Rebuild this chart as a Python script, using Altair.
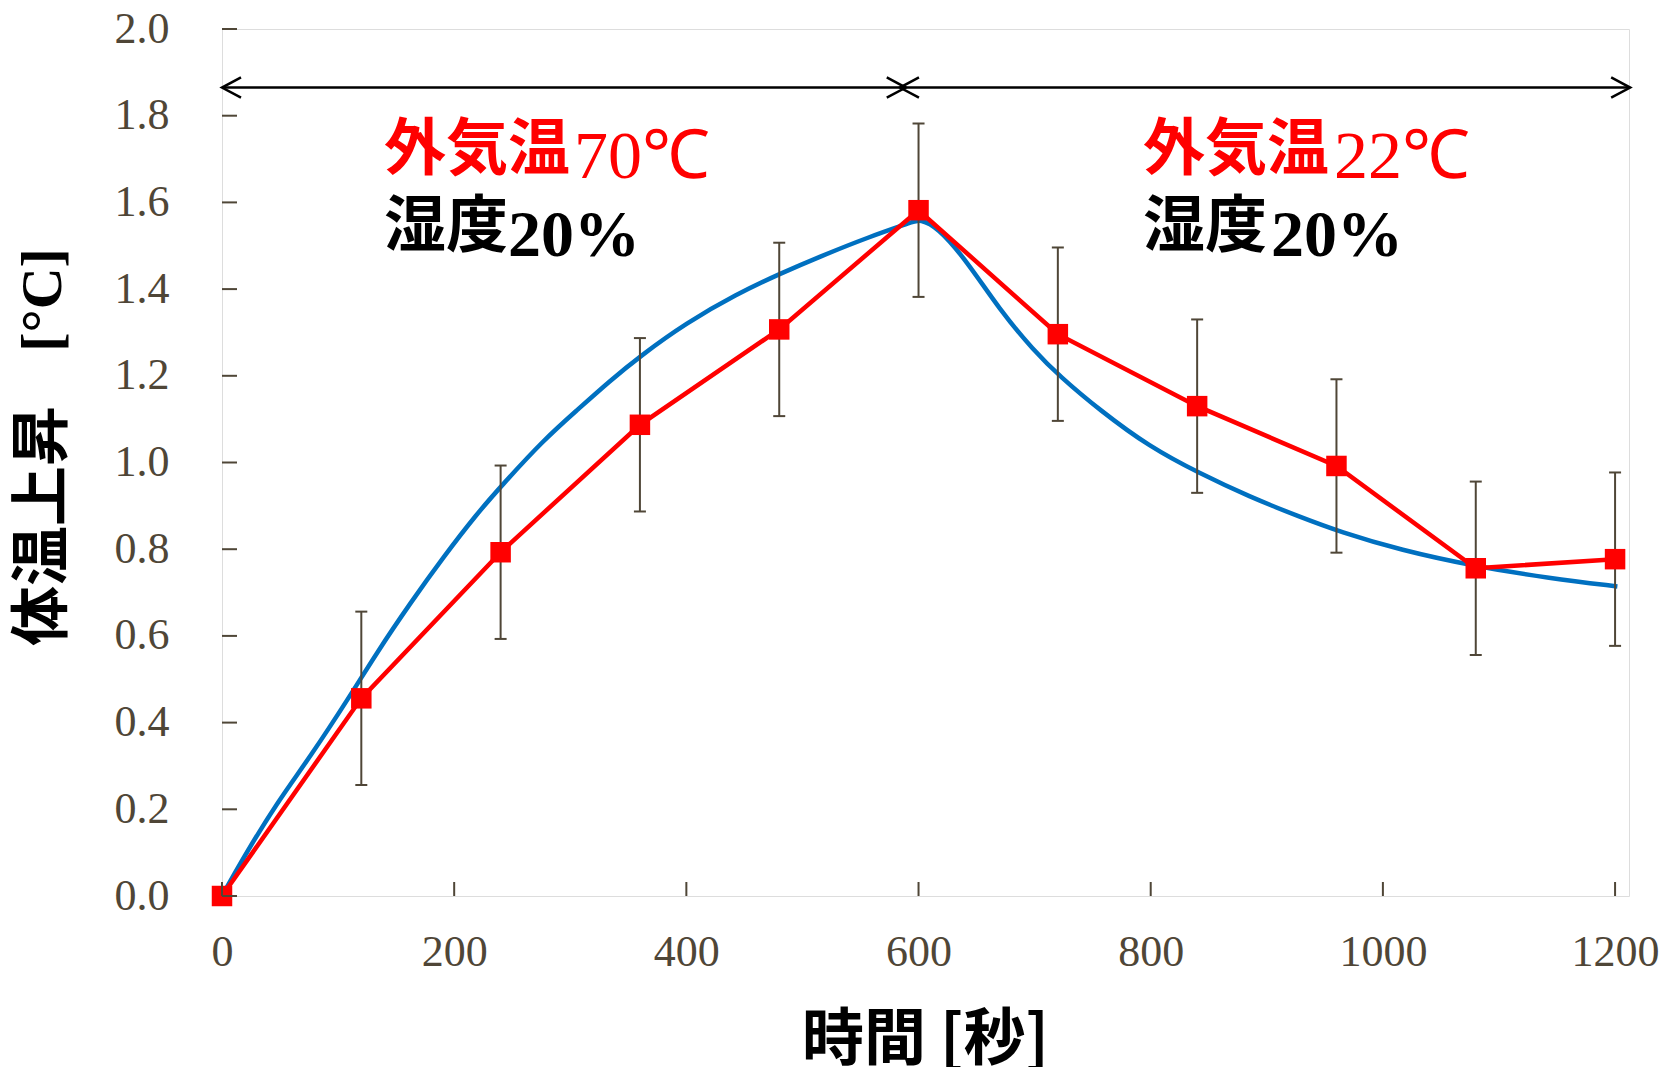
import altair as alt
import pandas as pd

# ---- data ----
meas_t = [0, 120, 240, 360, 480, 600, 720, 840, 960, 1080, 1200]
meas_v = [0.0, 0.456, 0.793, 1.087, 1.307, 1.582, 1.296, 1.130, 0.992, 0.756, 0.777]
meas_err = [0.0, 0.2, 0.2, 0.2, 0.2, 0.2, 0.2, 0.2, 0.2, 0.2, 0.2]

model_t = [0, 19, 47, 76, 110, 133, 162, 191, 220, 240, 277, 306, 334, 360, 400, 443,
           481, 515, 558, 595, 601, 616, 641, 670, 699, 722, 756, 799, 842, 885, 928,
           963, 1015, 1080, 1144, 1202]
model_v = [0.0, 0.091, 0.214, 0.321, 0.460, 0.560, 0.675, 0.783, 0.883, 0.944, 1.052,
           1.121, 1.188, 1.245, 1.322, 1.388, 1.436, 1.475, 1.521, 1.555, 1.561, 1.544,
           1.467, 1.352, 1.259, 1.198, 1.121, 1.036, 0.975, 0.921, 0.875, 0.840, 0.798,
           0.760, 0.733, 0.714]

x_ticks = [0, 200, 400, 600, 800, 1000, 1200]
y_ticks = [0.0, 0.2, 0.4, 0.6, 0.8, 1.0, 1.2, 1.4, 1.6, 1.8, 2.0]

arrow_start = [0, 584]
arrow_end = [589, 1213]
arrow_level = [1.865, 1.865]

x_title = "時間 [秒]"
y_title_jp = "体温上昇"
y_title_unit = "[°C]"
ann1_jp = ["外気温", "湿度"]
ann1_num = ["70℃", "20%"]
ann2_jp = ["外気温", "湿度"]
ann2_num = ["22℃", "20%"]

# ---- styling ----
W, H = 1407, 867
AX = "#4F4637"
SERIF = "Liberation Serif"
CJK = "Noto Sans CJK JP"

meas = pd.DataFrame({"t": meas_t, "v": meas_v, "e": meas_err})
meas["lo"] = meas["v"] - meas["e"]
meas["hi"] = meas["v"] + meas["e"]
meas_eb = meas[meas["e"] > 0]
model = pd.DataFrame({"t": model_t, "v": model_v})
arrows = pd.DataFrame({"s": arrow_start, "e": arrow_end, "y": arrow_level})

xs = alt.Scale(domain=[0, 1212], nice=False, zero=False)
ys = alt.Scale(domain=[0, 2.0], nice=False, zero=False)
xaxis = alt.Axis(title=None, values=x_ticks, ticks=False, domain=False, grid=False,
                 format="d", labelFont=SERIF, labelFontSize=44, labelColor=AX, labelPadding=34,
                 labelFlush=False, labelOverlap=False)
yaxis = alt.Axis(title=None, values=y_ticks, ticks=False, domain=False, grid=False,
                 format=".1f", labelFont=SERIF, labelFontSize=44, labelColor=AX,
                 labelPadding=53, labelOverlap=False)


def X(f):
    return alt.X(f, type="quantitative", scale=xs, axis=xaxis)


def Y(f):
    return alt.Y(f, type="quantitative", scale=ys, axis=yaxis)


blue = alt.Chart(model).mark_line(color="#0070C0", strokeWidth=4.5, interpolate="basis").encode(
    x=X("t"), y=Y("v"))

eb_rule = alt.Chart(meas_eb).mark_rule(color=AX, strokeWidth=2).encode(
    x=X("t"), y=Y("lo"), y2="hi")
eb_lo = alt.Chart(meas_eb).mark_tick(color=AX, orient="horizontal", size=12, thickness=2, opacity=1).encode(
    x=X("t"), y=Y("lo"))
eb_hi = alt.Chart(meas_eb).mark_tick(color=AX, orient="horizontal", size=12, thickness=2, opacity=1).encode(
    x=X("t"), y=Y("hi"))

red_line = alt.Chart(meas).mark_line(color="#FF0000", strokeWidth=4.5).encode(x=X("t"), y=Y("v"))
red_pts = alt.Chart(meas).mark_square(color="#FF0000", size=420, opacity=1).encode(x=X("t"), y=Y("v"))

xt = alt.Chart(pd.DataFrame({"t": x_ticks})).mark_rule(color=AX, strokeWidth=2).encode(
    x=X("t"), y=alt.value(H), y2=alt.value(H - 14))
yt = alt.Chart(pd.DataFrame({"v": y_ticks})).mark_rule(color=AX, strokeWidth=2).encode(
    y=Y("v"), x=alt.value(0), x2=alt.value(15))

arrow_line = alt.Chart(arrows).mark_rule(color="black", strokeWidth=2.5).encode(
    x=X("s"), x2="e", y=Y("y"))
head_l = alt.Chart(arrows).mark_point(shape="M 1 -0.53 L 0 0 L 1 0.53", filled=False,
                                       stroke="black", strokeWidth=2.5, size=1444, opacity=1).encode(
    x=X("s"), y=Y("y"))
head_r = alt.Chart(arrows).mark_point(shape="M -1 -0.53 L 0 0 L -1 0.53", filled=False,
                                       stroke="black", strokeWidth=2.5, size=1444, opacity=1).encode(
    x=X("e"), y=Y("y"))


def txt(s, x, y, font, size, color="black", weight="bold", angle=0, align="left", baseline="middle"):
    return alt.Chart(pd.DataFrame({"s": [s]})).mark_text(
        font=font, fontSize=size, fontWeight=weight, color=color, angle=angle,
        align=align, baseline=baseline).encode(text="s:N", x=alt.value(x), y=alt.value(y))


texts = [
    txt(ann1_jp[0], 162, 122, CJK, 62, "#FF0000"),
    txt(ann1_num[0], 352, 149, SERIF, 68, "#FF0000", weight="normal", baseline="alphabetic"),
    txt(ann1_jp[1], 162, 199, CJK, 62),
    txt(ann1_num[1], 286, 227, SERIF, 66, baseline="alphabetic"),
    txt(ann2_jp[0], 921, 122, CJK, 62, "#FF0000"),
    txt(ann2_num[0], 1112, 149, SERIF, 68, "#FF0000", weight="normal", baseline="alphabetic"),
    txt(ann2_jp[1], 921, 199, CJK, 62),
    txt(ann2_num[1], 1049, 227, SERIF, 66, baseline="alphabetic"),
    txt(x_title, W / 2, 1012, CJK, 62, align="center"),
    txt(y_title_jp, -178, 497, CJK, 60, angle=270, align="center"),
    txt(y_title_unit, -178, 271, SERIF, 58, angle=270, align="center"),
]

chart = alt.layer(blue, eb_rule, eb_lo, eb_hi, red_line, red_pts, xt, yt,
                  arrow_line, head_l, head_r, *texts).properties(
    width=W, height=H,
    autosize=alt.AutoSizeParams(type="none"),
    padding={"left": 214, "top": 21, "right": 30, "bottom": 171},
).configure_view(stroke=AX, strokeWidth=2).configure(background="white")

chart.save("out.html", embed_options={"renderer": "svg", "actions": False})
